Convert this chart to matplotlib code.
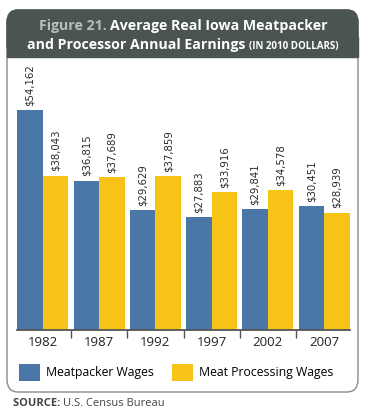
import matplotlib.pyplot as plt
import matplotlib.patches as patches
import numpy as np

years = ['1982', '1987', '1992', '1997', '2002', '2007']
meatpacker = [54162, 36815, 29629, 27883, 29841, 30451]
processing = [38043, 37689, 37859, 33916, 34578, 28939]

blue = '#4a77a8'
yellow = '#f6c316'
dark = '#4a5553'

W, H = 372, 417
fig = plt.figure(figsize=(W / 100, H / 100), dpi=100)

def fx(px):
    return px / W

def fy(py):
    return 1 - py / H

# outer rounded box
box = patches.FancyBboxPatch((fx(7), fy(392)), fx(351), (392 - 10) / H,
                             boxstyle='round,pad=0,rounding_size=0.03',
                             transform=fig.transFigure, facecolor='white',
                             edgecolor='#8a8a8a', linewidth=1.0, zorder=-3)
fig.patches.append(box)
head = patches.FancyBboxPatch((fx(7), fy(57)), fx(351), (57 - 10) / H,
                              boxstyle='round,pad=0,rounding_size=0.03',
                              transform=fig.transFigure, facecolor=dark,
                              edgecolor=dark, linewidth=1.0, zorder=-2)
fig.patches.append(head)
fig.patches.append(patches.Rectangle((fx(7), fy(57)), fx(351), 20 / H,
                                     transform=fig.transFigure, facecolor=dark,
                                     edgecolor=dark, linewidth=1.0, zorder=-2))

ax = fig.add_axes([fx(17), fy(330), fx(333), 270 / H])
ax.patch.set_visible(False)
x = np.arange(len(years))
w = 0.455
ax.bar(x - w / 2, meatpacker, w, color=blue, label='Meatpacker Wages')
ax.bar(x + w / 2, processing, w, color=yellow, label='Meat Processing Wages')
for i in range(len(years)):
    for xx, v in ((x[i] - w / 2, meatpacker[i]), (x[i] + w / 2, processing[i])):
        ax.text(xx, v + 1000, '${:,}'.format(v), rotation=90, ha='center',
                va='bottom', fontsize=7.3, color='#2a2a2a',
                family=['Liberation Sans Narrow', 'DejaVu Sans'])

ax.set_xlim(-0.46, 5.46)
ax.set_ylim(0, 66500)
ax.set_yticks([])
for s in ['left', 'right', 'top']:
    ax.spines[s].set_visible(False)
ax.spines['bottom'].set_color('#555555')
ax.spines['bottom'].set_linewidth(1.3)
ax.set_xticks(x)
ax.set_xticklabels(years, fontsize=9.5, color='#222222', family='Open Sans')
ax.tick_params(axis='x', which='major', length=0, pad=4)
ax.set_xticks(x[:-1] + 0.5, minor=True)
ax.tick_params(axis='x', which='minor', length=6, width=1.0, color='#555555')

fig.legend(loc='lower left', bbox_to_anchor=(fx(14), fy(386)), ncol=2,
           frameon=False, prop={'family': 'Open Sans', 'size': 8.8},
           handlelength=1.7, handleheight=1.8, handletextpad=0.5,
           columnspacing=1.5, borderaxespad=0)

# title pieces
fig.canvas.draw()
r = fig.canvas.get_renderer()

def line(pieces, ypx):
    texts = []
    for s, kw in pieces:
        texts.append(fig.text(0, fy(ypx), s, va='baseline', ha='left',
                              family='Open Sans', fontweight='bold', **kw))
    widths = [t.get_window_extent(r).width for t in texts]
    x0 = (183 - sum(widths) / 2)
    for t, wd in zip(texts, widths):
        t.set_x(fx(x0))
        x0 += wd

line([('Figure 21. ', dict(color='#b8bebc', size=10.2)),
      ('Average Real Iowa Meatpacker', dict(color='white', size=10.2))], 30)
line([('and Processor Annual Earnings ', dict(color='white', size=10.2)),
      ('(IN 2010 DOLLARS)', dict(color='white', size=7))], 49)

t1 = fig.text(fx(13), fy(403), 'SOURCE: ', fontsize=8, fontweight='bold',
              color='#444444', family='Open Sans', va='center')
wd = t1.get_window_extent(r).width
fig.text(fx(13 + wd), fy(403), 'U.S. Census Bureau', fontsize=8,
         color='#444444', family='Open Sans', va='center')

fig.savefig('out.png', dpi=100)
